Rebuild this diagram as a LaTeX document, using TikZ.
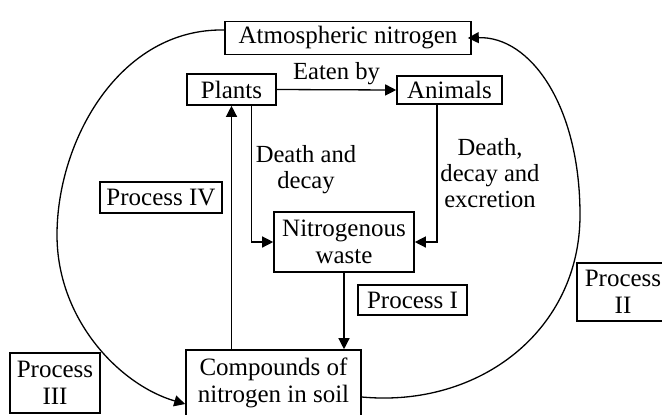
\documentclass[tikz,border=0pt]{standalone}
\usepackage{fontspec}
\setmainfont{Liberation Serif}
\usetikzlibrary{arrows.meta,calc}
\begin{document}
\begin{tikzpicture}[x=0.5pt,y=-0.5pt,
  box/.style={draw,line width=0.8pt,inner sep=0pt,align=center,font=\fontsize{12.5}{13.5}\selectfont},
  lbl/.style={inner sep=0pt,align=center,font=\fontsize{12.3}{13}\selectfont},
  arr/.style={line width=0.65pt,-{Triangle[length=5.5pt,width=5.5pt]}},
  ln/.style={line width=0.65pt}]
\useasboundingbox (0,0) rectangle (662,414);
\node[box,minimum width=123pt,minimum height=16.5pt] (atm) at (348,38) {Atmospheric nitrogen};
\node[box,minimum width=44.5pt,minimum height=15.5pt] (plants) at (231.5,89.5) {Plants};
\node[box,minimum width=52.5pt,minimum height=14pt] (animals) at (449.5,90) {Animals};
\node[box,minimum width=70pt,minimum height=30pt] (waste) at (344,242) {Nitrogenous\\waste};
\node[box,minimum width=87.5pt,minimum height=33pt] (soil) at (273.5,383) {Compounds of\\nitrogen in soil};
\node[box,minimum width=61pt,minimum height=15.5pt] (p4) at (161,197.5) {Process IV};
\node[box,minimum width=54.5pt,minimum height=15pt] (p1) at (412.5,300) {Process I};
\node[box,minimum width=46pt,minimum height=29pt] (p2) at (623,292) {Process\\II};
\node[box,minimum width=45pt,minimum height=30pt] (p3) at (55,383) {Process\\III};

\draw[arr] (plants.east) -- node[lbl,above=2pt] (eaten) {Eaten by} (animals.west);
\draw[arr] ([xshift=10pt]plants.south) |- (waste.west);
\draw[arr] ([xshift=-6.25pt]animals.south) |- (waste.east);
\draw[arr] (waste.south) -- (waste.south |- soil.north);
\draw[arr] (soil.north -| plants.south) -- (plants.south);
\node[lbl] (dd) at (306,170) {Death and\\decay};
\node[lbl] (dde) at (490,173) {Death,\\decay and\\excretion};

\coordinate (c3a) at (57,235);
\draw[arr] ([yshift=4pt]atm.west) .. controls (120,28) and (57,140) .. (c3a)
  .. controls (57,320) and (120,385) .. (soil.west |- 0,404);
\coordinate (c2a) at (580,215);
\draw[arr] (soil.east |- 0,397) .. controls (480,408) and (580,330) .. (c2a)
  .. controls (580,105) and (530,36) .. ([xshift=-2pt]atm.east);
\end{tikzpicture}
\end{document}
